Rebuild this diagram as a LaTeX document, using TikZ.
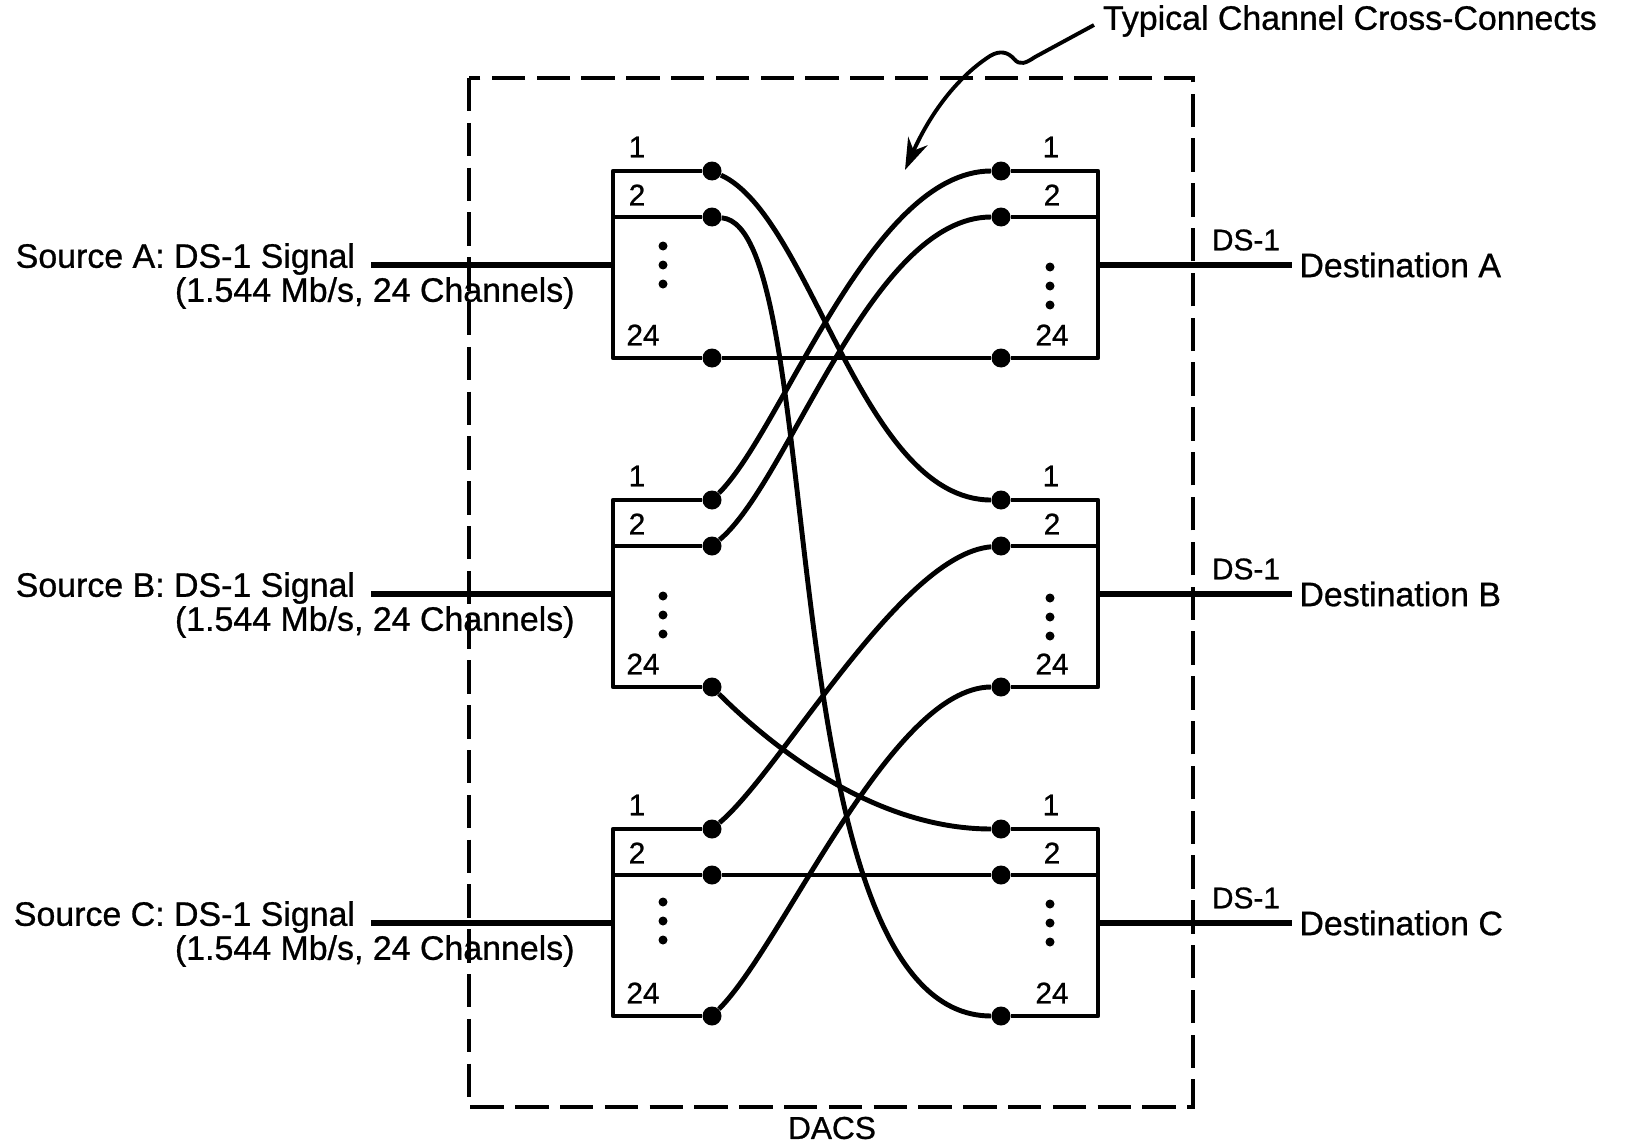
\documentclass[tikz,border=0pt]{standalone}
\usepackage{fontspec}
\setmainfont{Liberation Sans}[FakeBold=0.8]
\usepackage{tikz}
\usetikzlibrary{positioning, arrows.meta, calc}

\begin{document}
\begin{tikzpicture}[x=0.02cm, y=-0.02cm, every node/.style={inner sep=1.5pt},
  port/.style={circle,fill=black,minimum size=0.38cm,inner sep=0pt},
  frame/.style={line width=2.6pt,line join=round},
  wire/.style={line width=2.8pt},
  feed/.style={line width=3.4pt},
  txt/.style={font=\fontsize{19.3}{22}\selectfont},
  num/.style={font=\fontsize{17}{20}\selectfont}]
  \useasboundingbox (0,0) rectangle (1630,1146);

  % DACS outline
  \draw[line width=2.6pt,dash pattern=on 19pt off 6.5pt] (469,78) rectangle (1193,1107);
  \node[font=\fontsize{18}{22}\selectfont] (dacs) at (832,1128) {DACS};

  \foreach \bx/\BX/\ty/\dl/\dr in {a/A/171/75/96, b/B/500/96/98, c/C/829/73/75} {
    % ports
    \node[port] (\bx1L) at (712,\ty) {};
    \node[port] (\bx2L) at (712,\ty+46) {};
    \node[port] (\bx24L) at (712,\ty+187) {};
    \node[port] (\bx1R) at (1001,\ty) {};
    \node[port] (\bx2R) at (1001,\ty+46) {};
    \node[port] (\bx24R) at (1001,\ty+187) {};
    % frames
    \draw[frame] (\bx1L) -- (613,\ty) -- (613,\ty+187) -- (\bx24L);
    \draw[frame] (613,\ty+46) -- (\bx2L);
    \draw[frame] (\bx1R) -- (1098,\ty) -- (1098,\ty+187) -- (\bx24R);
    \draw[frame] (1098,\ty+46) -- (\bx2R);
    \node[num] (\bx-l1) at (637,\ty-24) {1};
    \node[num] (\bx-l2) at (637,\ty+24) {2};
    \node[num] (\bx-l24) at (643,\ty+164) {24};
    \node[num] (\bx-r1) at (1051,\ty-24) {1};
    \node[num] (\bx-r2) at (1052,\ty+24) {2};
    \node[num] (\bx-r24) at (1052,\ty+164) {24};
    \foreach \k in {0,1,2} {
      \fill (663,\ty+\dl+19*\k) circle[radius=4.5];
      \fill (1050,\ty+\dr+19*\k) circle[radius=4.5];
    }
    % DS-1 in and out
    \node[txt,anchor=east] (src\bx) at (358,\ty+88) {Source \BX: DS-1 Signal};
    \node[txt,anchor=west] (rate\bx) at (172,\ty+122) {(1.544 Mb/s, 24 Channels)};
    \coordinate (in\bx) at (371,\ty+94);
    \draw[feed] (in\bx) -- (613,\ty+94);
    \node[txt,anchor=west,inner xsep=4pt] (dst\bx) at (1292,\ty+94) {Destination \BX};
    \draw[feed] (1098,\ty+94) -- (dst\bx.west);
    \node[num] (ds\bx) at (1246,\ty+69) {DS-1};
  }

  % cross-connects
  \draw[wire] (a1L) .. controls ($(a1L)+(100,46)$) and ($(b1R)+(-140,0)$) .. (b1R);
  \draw[wire] (a2L) .. controls ($(a2L)+(118,10)$) and ($(c24R)+(-235,0)$) .. (c24R);
  \draw[wire] (b1L) .. controls ($(b1L)+(71,-71)$) and ($(a1R)+(-130,0)$) .. (a1R);
  \draw[wire] (b2L) .. controls ($(b2L)+(77,-64)$) and ($(a2R)+(-130,0)$) .. (a2R);
  \draw[wire] (b24L) .. controls ($(b24L)+(55,55)$) and ($(c1R)+(-130,0)$) .. (c1R);
  \draw[wire] (c1L) .. controls ($(c1L)+(69,-58)$) and ($(b2R)+(-100,8)$) .. (b2R);
  \draw[wire] (c24L) .. controls ($(c24L)+(71,-71)$) and ($(b24R)+(-110,0)$) .. (b24R);
  \draw[wire] (a24L) -- (a24R);
  \draw[wire] (c2L) -- (c2R);

  % leader
  \node[txt,anchor=west] (xc) at (1100,21) {Typical Channel Cross-Connects};
  \coordinate (tip) at (905,170);
  \draw[line width=2.2pt,-{Stealth[length=18pt,width=12pt]}] ([shift={(-6,4)}]xc.west) -- (1035,57)
    .. controls (1026,63) and (1020,66) .. (1014,59)
    .. controls (1008,52) and (1000,50) .. (990,56)
    .. controls (950,82) and (925,125) .. (tip);
\end{tikzpicture}
\end{document}
